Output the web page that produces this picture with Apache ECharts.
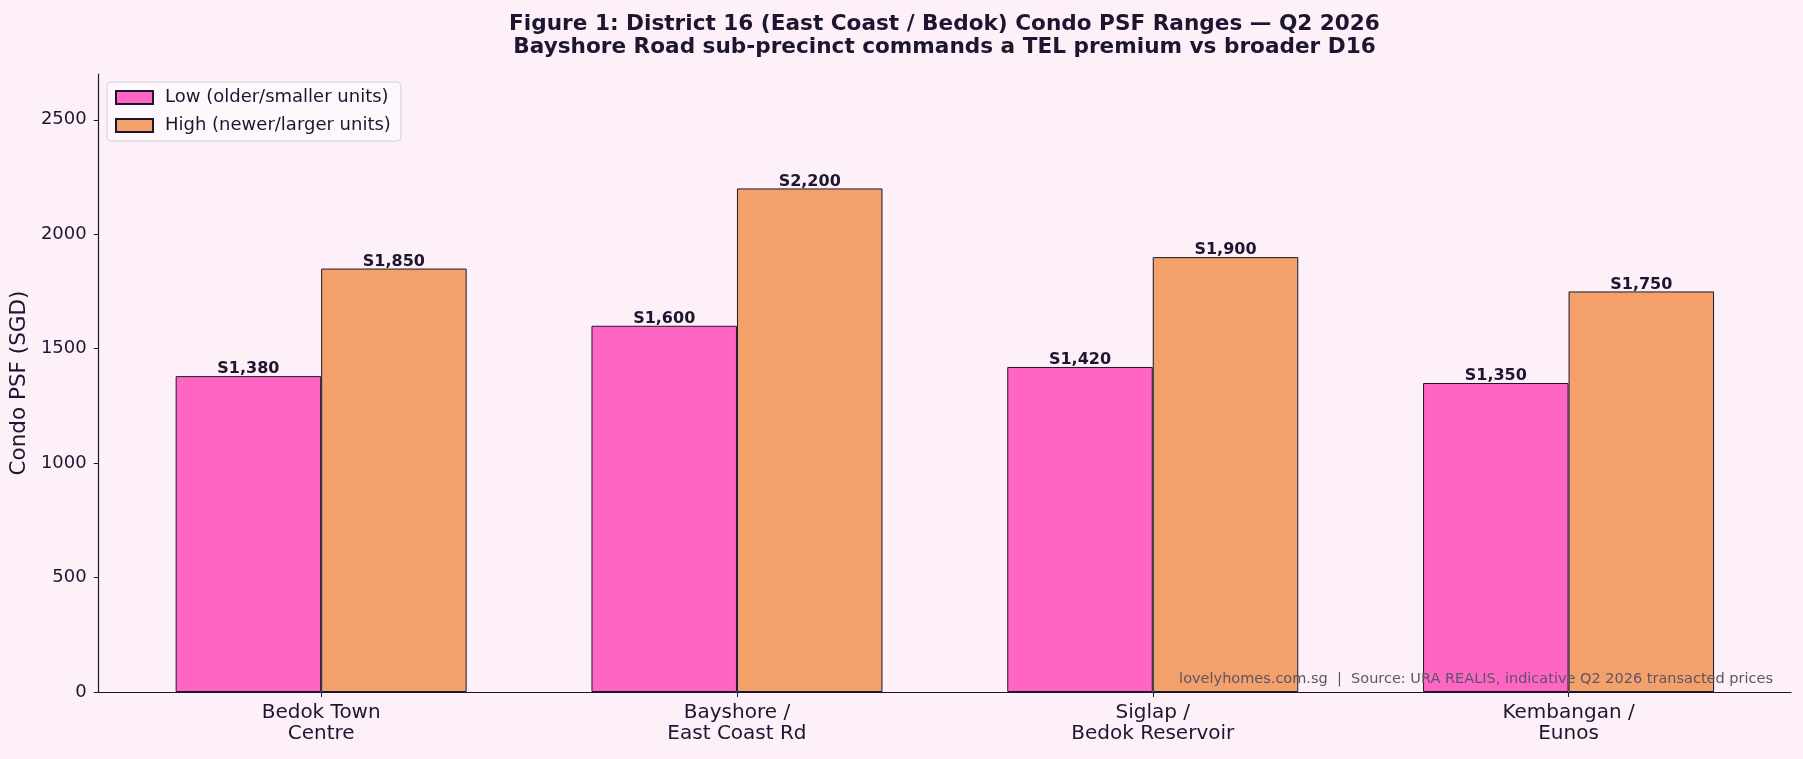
<!DOCTYPE html>
<html>
<head>
<meta charset="utf-8">
<script src="https://cdn.jsdelivr.net/npm/echarts@6/dist/echarts.min.js"></script>
<style>
html,body{margin:0;padding:0;background:#FDF0F8;}
#chart{width:1803px;height:759px;}
</style>
</head>
<body>
<div id="chart"></div>
<script>
const categories = ['Bedok Town\nCentre', 'Bayshore /\nEast Coast Rd', 'Siglap /\nBedok Reservoir', 'Kembangan /\nEunos'];
const lowValues = [1380, 1600, 1420, 1350];
const highValues = [1850, 2200, 1900, 1750];
const seriesNames = ['Low (older/smaller units)', 'High (newer/larger units)'];
const yTicks = [0, 500, 1000, 1500, 2000, 2500];
const titleText = 'Figure 1: District 16 (East Coast / Bedok) Condo PSF Ranges \u2014 Q2 2026\nBayshore Road sub-precinct commands a TEL premium vs broader D16';
const footerText = 'lovelyhomes.com.sg  |  Source: URA REALIS, indicative Q2 2026 transacted prices';

const DARK = '#1C1630';
const FONT = '"DejaVu Sans", sans-serif';
const chart = echarts.init(document.getElementById('chart'));

function fmt(v){ return 'S' + v.toLocaleString('en-US'); }
const xIdx = categories.map((c, i) => i);

function makeSeries(name, values, color){
  return {
    name: name,
    type: 'bar',
    data: values.map((v, i) => [xIdx[i], v]),
    barWidth: 145.5,
    barGap: '0%',
    itemStyle: { color: color, borderColor: DARK, borderWidth: 1 },
    label: {
      show: true, position: 'top', distance: -1,
      formatter: p => fmt(p.value[1]),
      fontFamily: FONT, fontWeight: 'bold', fontSize: 16, color: DARK
    },
    emphasis: { disabled: true }
  };
}

chart.setOption({
  backgroundColor: '#FDF0F8',
  animation: false,
  textStyle: { fontFamily: FONT },
  grid: { left: 98, right: 12, top: 74, bottom: 67 },
  legend: {
    data: seriesNames,
    orient: 'vertical',
    left: 107, top: 82,
    padding: [6, 10, 6, 8],
    itemWidth: 37, itemHeight: 13, itemGap: 9,
    backgroundColor: 'rgba(255,255,255,0.55)',
    borderColor: '#d4ced6', borderWidth: 1, borderRadius: 4,
    textStyle: { fontFamily: FONT, fontSize: 18, color: DARK, lineHeight: 19, padding: [0, 0, 0, 7] },
    icon: 'rect'
  },
  xAxis: {
    type: 'value',
    min: -0.535, max: 3.535,
    splitLine: { show: false },
    axisLine: { show: true, onZero: false, lineStyle: { color: DARK, width: 1.2 } },
    axisTick: { show: true, length: 5, lineStyle: { color: DARK }, customValues: xIdx },
    axisLabel: {
      customValues: xIdx,
      formatter: v => categories[Math.round(v)] || '',
      fontFamily: FONT, fontSize: 20, color: DARK, lineHeight: 21, margin: 10
    }
  },
  yAxis: {
    type: 'value',
    min: 0, max: 2700, interval: 500,
    name: 'Condo PSF (SGD)',
    nameLocation: 'middle', nameGap: 61,
    nameTextStyle: { fontFamily: FONT, fontSize: 21.5, color: DARK },
    splitLine: { show: false },
    axisLine: { show: true, onZero: false, lineStyle: { color: DARK, width: 1.2 } },
    axisTick: { show: true, length: 5, lineStyle: { color: DARK }, customValues: yTicks },
    axisLabel: {
      customValues: yTicks,
      formatter: v => (v % 500 === 0 && v <= 2500) ? String(v) : '',
      fontFamily: FONT, fontSize: 18, color: DARK, margin: 12
    }
  },
  series: [
    makeSeries(seriesNames[0], lowValues, '#FF66C4'),
    makeSeries(seriesNames[1], highValues, '#F4A06B')
  ],
  graphic: [
    {
      type: 'text', x: 944.5, y: 12.5, z: 10,
      style: { text: titleText, align: 'center', verticalAlign: 'top',
        font: 'bold 21.6px "DejaVu Sans", sans-serif', lineHeight: 23, fill: DARK }
    },
    {
      type: 'text', x: 1773, y: 679, z: 10,
      style: { text: footerText, align: 'right', verticalAlign: 'middle',
        font: '14.5px "DejaVu Sans", sans-serif', fill: '#5b5566' }
    }
  ]
});
</script>
</body>
</html>
